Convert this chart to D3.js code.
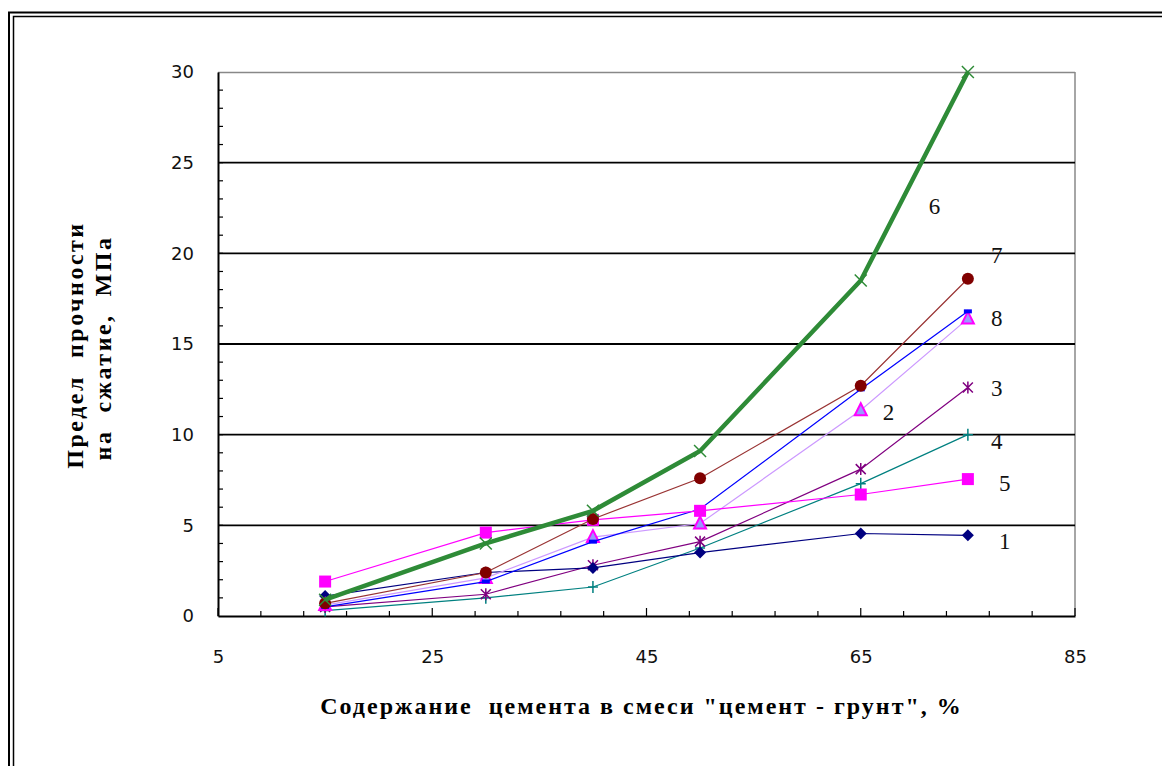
<!DOCTYPE html>
<html><head><meta charset="utf-8">
<script src="https://cdn.jsdelivr.net/npm/d3@7/dist/d3.min.js"></script>
<style>html,body{margin:0;padding:0;background:#fff;}svg{display:block;}</style>
</head><body>
<svg id="c" width="1162" height="766"></svg>
<script>
const xValues = [15, 30, 40, 50, 65, 75];
const s1 = [1.1, 2.4, 2.65, 3.5, 4.55, 4.45];
const s2 = [0.6, 2.1, 4.35, 5.1, 11.35, 16.4];
const s3 = [0.5, 1.2, 2.8, 4.1, 8.1, 12.6];
const s4 = [0.3, 1.0, 1.6, 3.75, 7.3, 10.0];
const s5 = [1.9, 4.6, 5.3, 5.8, 6.7, 7.55];
const s6 = [0.9, 4.0, 5.8, 9.1, 18.5, 30.0];
const s7 = [0.7, 2.4, 5.35, 7.6, 12.7, 18.6];
const s8 = [0.5, 1.9, 4.1, 5.9, 12.5, 16.8];
const xTicks = [5, 25, 45, 65, 85];
const yTicks = [0, 5, 10, 15, 20, 25, 30];
const seriesLabels = ["1","2","3","4","5","6","7","8"];
const xTitle = "Содержание  цемента в смеси \"цемент - грунт\", %";
const yTitle1 = "Предел  прочности";
const yTitle2 = "на  сжатие,  МПа";

const svg = d3.select("#c");
// double frame
svg.append("rect").attr("x",9).attr("y",12.5).attr("width",1200).attr("height",800)
  .attr("fill","none").attr("stroke","#000").attr("stroke-width",2);
svg.append("rect").attr("x",13.5).attr("y",16.5).attr("width",1200).attr("height",800)
  .attr("fill","none").attr("stroke","#000").attr("stroke-width",1.5);

const L=218, R=1075, T=72, B=616;
const x = d3.scaleLinear().domain([5,85]).range([L,R]);
const y = d3.scaleLinear().domain([0,30]).range([B,T]);

// plot border top/right gray
svg.append("line").attr("x1",L).attr("x2",R).attr("y1",T+0.5).attr("y2",T+0.5).attr("stroke","#888").attr("stroke-width",1.5);
svg.append("line").attr("x1",R).attr("x2",R).attr("y1",T).attr("y2",B).attr("stroke","#888").attr("stroke-width",1.5);

// gridlines
svg.append("g").selectAll("line").data(yTicks.filter(d=>d>0&&d<30)).join("line")
  .attr("x1",L).attr("x2",R).attr("y1",d=>y(d)).attr("y2",d=>y(d))
  .attr("stroke","#000").attr("stroke-width",1.8);

// y axis
const yAxis = d3.axisLeft(y).tickValues(yTicks).tickSize(0).tickPadding(24);
const gy = svg.append("g").attr("transform",`translate(${L},0)`).call(yAxis);
gy.select(".domain").attr("stroke","#000").attr("stroke-width",2);
gy.selectAll("text").attr("font-family","DejaVu Sans, sans-serif").attr("font-size",18).attr("fill","#111");
// y minor ticks inside
svg.append("g").selectAll("line").data(d3.range(1,30)).join("line")
  .attr("x1",L).attr("x2",L+5).attr("y1",d=>y(d)).attr("y2",d=>y(d))
  .attr("stroke","#000").attr("stroke-width",1.2);

// x axis
const xAxis = d3.axisBottom(x).tickValues(xTicks).tickSize(0).tickPadding(34);
const gx = svg.append("g").attr("transform",`translate(0,${B})`).call(xAxis);
gx.select(".domain").attr("stroke","#000").attr("stroke-width",2);
gx.selectAll("text").attr("font-family","DejaVu Sans, sans-serif").attr("font-size",18).attr("fill","#111");
svg.append("g").selectAll("line").data(d3.range(5,86,4)).join("line")
  .attr("x1",d=>x(d)).attr("x2",d=>x(d)).attr("y1",B).attr("y2",d=>((d-5)%20===0)?B-8:B-5)
  .attr("stroke","#000").attr("stroke-width",1.2);

// series
const series = [
  {v:s4, color:"#008080", w:1.2, m:"plus", mc:"#008080"},
  {v:s3, color:"#800080", w:1.2, m:"star", mc:"#800080"},
  {v:s1, color:"#000080", w:1.2, m:"diamond", mc:"#000080"},
  {v:s2, color:"#CC99FF", w:1.2, m:"triangle", mc:"#9999FF", ms:"#FF00FF"},
  {v:s8, color:"#0000FF", w:1.2, m:"dash", mc:"#0000FF"},
  {v:s5, color:"#FF00FF", w:1.2, m:"square", mc:"#FF00FF"},
  {v:s7, color:"#993333", w:1.2, m:"circle", mc:"#800000"},
  {v:s6, color:"#2E8B37", w:4.5, m:"x", mc:"#2E8B37"}
];
const line = d3.line().x((d,i)=>x(xValues[i])).y(d=>y(d));
series.forEach(s=>{
  svg.append("path").datum(s.v).attr("d",line).attr("fill","none")
    .attr("stroke",s.color).attr("stroke-width",s.w);
  const g = svg.append("g");
  s.v.forEach((d,i)=>{
    const cx=x(xValues[i]), cy=y(d);
    if(s.m==="diamond"){
      g.append("path").attr("d",`M${cx},${cy-6}L${cx+6},${cy}L${cx},${cy+6}L${cx-6},${cy}Z`).attr("fill",s.mc);
    } else if(s.m==="square"){
      g.append("rect").attr("x",cx-6).attr("y",cy-6).attr("width",12).attr("height",12).attr("fill",s.mc);
    } else if(s.m==="circle"){
      g.append("circle").attr("cx",cx).attr("cy",cy).attr("r",6).attr("fill",s.mc);
    } else if(s.m==="triangle"){
      g.append("path").attr("d",`M${cx},${cy-7}L${cx+6},${cy+5}L${cx-6},${cy+5}Z`).attr("fill",s.mc).attr("stroke",s.ms).attr("stroke-width",2);
    } else if(s.m==="plus"){
      g.append("path").attr("d",`M${cx-5},${cy}L${cx+5},${cy}M${cx},${cy-6}L${cx},${cy+6}`).attr("stroke",s.mc).attr("stroke-width",1.5);
    } else if(s.m==="star"){
      g.append("path").attr("d",`M${cx-5},${cy-5}L${cx+5},${cy+5}M${cx+5},${cy-5}L${cx-5},${cy+5}M${cx},${cy-6}L${cx},${cy+6}`).attr("stroke",s.mc).attr("stroke-width",1.5);
    } else if(s.m==="x"){
      g.append("path").attr("d",`M${cx-6},${cy-6}L${cx+6},${cy+6}M${cx+6},${cy-6}L${cx-6},${cy+6}`).attr("stroke",s.mc).attr("stroke-width",1.5);
    } else if(s.m==="dash"){
      g.append("rect").attr("x",cx-4).attr("y",cy-2).attr("width",8).attr("height",4).attr("fill",s.mc);
    }
  });
});

// series labels (positioned near data endpoints)
const labelPos = [
  {t:seriesLabels[0], xv:75, yv:s1[5], dx:31, dy:14},
  {t:seriesLabels[1], xv:65, yv:s2[4], dx:22, dy:10},
  {t:seriesLabels[2], xv:75, yv:s3[5], dx:23, dy:8},
  {t:seriesLabels[3], xv:75, yv:s4[5], dx:23, dy:14},
  {t:seriesLabels[4], xv:75, yv:s5[5], dx:31, dy:12},
  {t:seriesLabels[5], xv:65, yv:s6[4], dx:68, dy:-67},
  {t:seriesLabels[6], xv:75, yv:s7[5], dx:23, dy:-16},
  {t:seriesLabels[7], xv:75, yv:s8[5], dx:23, dy:15}
];
svg.append("g").selectAll("text").data(labelPos).join("text")
  .attr("x",d=>x(d.xv)+d.dx).attr("y",d=>y(d.yv)+d.dy)
  .attr("font-family","Liberation Serif, serif").attr("font-size",23).attr("fill","#111")
  .text(d=>d.t);

// axis titles
const tf = {family:"Liberation Serif, serif", size:24, ls:2};
svg.append("text").attr("x",(L+R)/2-5).attr("y",714).attr("text-anchor","middle")
  .attr("font-family",tf.family).attr("font-weight","bold").attr("font-size",tf.size)
  .attr("letter-spacing",tf.ls).style("white-space","pre").text(xTitle);
const yt = svg.append("g").attr("transform","translate(0,345) rotate(-90)");
yt.append("text").attr("x",0).attr("y",83).attr("text-anchor","middle")
  .attr("font-family",tf.family).attr("font-weight","bold").attr("font-size",tf.size)
  .attr("letter-spacing",2.5).style("white-space","pre").text(yTitle1);
yt.append("text").attr("x",-3).attr("y",111).attr("text-anchor","middle")
  .attr("font-family",tf.family).attr("font-weight","bold").attr("font-size",tf.size)
  .attr("letter-spacing",2.5).style("white-space","pre").text(yTitle2);
</script>
</body></html>
